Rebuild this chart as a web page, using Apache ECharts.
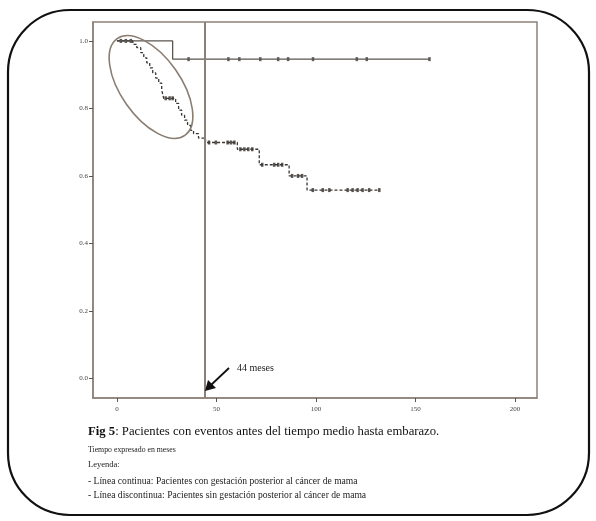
<!DOCTYPE html>
<html>
<head>
<meta charset="utf-8">
<script src="https://cdn.jsdelivr.net/npm/echarts@6/dist/echarts.min.js"></script>
<style>
  html, body { margin: 0; padding: 0; background: #ffffff; }
  #chart { width: 596px; height: 521px; }
</style>
</head>
<body>
<div id="chart"></div>
<script>
// Kaplan-Meier curves: time in months, cumulative survival
const xTicks = [0, 50, 100, 150, 200];
const yTicks = [0.0, 0.2, 0.4, 0.6, 0.8, 1.0];

// Patients with pregnancy after breast cancer (solid line)
const conTimes = [0, 28, 157];
const conSurv = [1.0, 0.946, 0.946];
const conCensored = [36, 56, 61.5, 72, 81, 86, 98.5, 120.5, 125.5, 157];

// Patients without pregnancy after breast cancer (dashed line)
const sinTimes = [0, 8, 10, 12, 13.5, 15, 16.5, 18, 19.5, 21, 22.5, 23.5, 29.5, 31, 32.5, 34, 35.5, 37, 38.5, 41, 44.5, 60.5, 71.5, 86.5, 95.5, 132];
const sinSurv = [1.0, 0.99, 0.98, 0.965, 0.95, 0.935, 0.92, 0.905, 0.89, 0.875, 0.855, 0.83, 0.815, 0.795, 0.78, 0.765, 0.75, 0.735, 0.725, 0.712, 0.699, 0.679, 0.633, 0.60, 0.558, 0.558];
const sinCensored = [2, 4.5, 7, 24.5, 26.5, 28, 46.3, 49.7, 55.6, 57.3, 59, 62, 64, 66, 68, 73, 79, 81, 83, 88, 91, 93, 98.4, 103.4, 106.7, 115.9, 118.4, 120.9, 123.4, 126.7, 131.8];

// Median time to pregnancy
const medianMonths = 44;

function pairs(ts, ss) { return ts.map((t, i) => [t, ss[i]]); }
function survAt(ts, ss, t) {
  let s = ss[0];
  for (let i = 0; i < ts.length; i++) { if (ts[i] <= t) s = ss[i]; }
  return s;
}
function censorPoints(cs, ts, ss) { return cs.map(t => [t, survAt(ts, ss, t)]); }

const chart = echarts.init(document.getElementById('chart'), null, { renderer: 'canvas' });
const frameColor = '#8d8279';
const serif = '"Liberation Serif", "DejaVu Serif", serif';

chart.setOption({
  animation: false,
  backgroundColor: '#ffffff',
  grid: {
    left: 93, right: 59, top: 22, bottom: 123,
    show: true, borderColor: frameColor, borderWidth: 1.5, backgroundColor: 'transparent'
  },
  xAxis: {
    type: 'value', min: -12, max: 211,
    splitLine: { show: false },
    axisLine: { show: true, onZero: false, lineStyle: { color: frameColor, width: 1.5 } },
    axisTick: { show: true, length: 4, customValues: xTicks, lineStyle: { color: '#555' } },
    axisLabel: { customValues: xTicks, color: '#444', fontSize: 7, fontFamily: serif, margin: 8 }
  },
  yAxis: {
    type: 'value', min: -0.058, max: 1.056,
    splitLine: { show: false },
    axisLine: { show: true, onZero: false, lineStyle: { color: frameColor, width: 1.5 } },
    axisTick: { show: true, length: 4, customValues: yTicks, lineStyle: { color: '#555' } },
    axisLabel: { customValues: yTicks, color: '#444', fontSize: 7, fontFamily: serif, margin: 5,
      formatter: v => v.toFixed(1) }
  },
  series: [
    {
      name: 'Con gestación', type: 'line', step: 'end', symbol: 'none',
      data: pairs(conTimes, conSurv),
      lineStyle: { color: '#5a5550', width: 1.3 },
      markLine: {
        silent: true, symbol: 'none', label: { show: false },
        lineStyle: { color: '#8a8079', width: 2, type: 'solid' },
        data: [{ xAxis: medianMonths }]
      }
    },
    {
      name: 'Con gestación censurados', type: 'scatter',
      data: censorPoints(conCensored, conTimes, conSurv),
      symbol: 'rect', symbolSize: [2.5, 4], itemStyle: { color: '#3a3633' }
    },
    {
      name: 'Sin gestación', type: 'line', step: 'end', symbol: 'none',
      data: pairs(sinTimes, sinSurv),
      lineStyle: { color: '#3a3633', width: 1.3, type: [3, 2] }
    },
    {
      name: 'Sin gestación censurados', type: 'scatter',
      data: censorPoints(sinCensored, sinTimes, sinSurv),
      symbol: 'rect', symbolSize: [2.5, 4], itemStyle: { color: '#2f2b28' }
    }
  ],
  graphic: [
    // rounded outer frame
    { type: 'rect', shape: { x: 8, y: 10, width: 581, height: 505, r: 62 },
      style: { fill: 'none', stroke: '#111', lineWidth: 2.2 }, z: 100 },
    // highlight ellipse around the early drop
    { type: 'ellipse', x: 151, y: 87, rotation: -0.96,
      shape: { cx: 0, cy: 0, rx: 59, ry: 30 },
      style: { fill: 'none', stroke: '#8a7d72', lineWidth: 1.6 }, z: 100 },
    // arrow to the median line
    { type: 'line', shape: { x1: 229, y1: 368, x2: 211, y2: 385 },
      style: { stroke: '#111', lineWidth: 1.8 }, z: 100 },
    { type: 'polygon', shape: { points: [[205, 391], [208, 380], [216, 388]] },
      style: { fill: '#111' }, z: 100 },
    { type: 'text', x: 237, y: 368,
      style: { text: '44 meses', fill: '#222', font: '10px ' + serif, textVerticalAlign: 'middle' }, z: 100 },
    // caption
    { type: 'text', x: 88, y: 432,
      style: { text: '{b|Fig 5}: Pacientes con eventos antes del tiempo medio hasta embarazo.',
        fill: '#111', font: '12.7px ' + serif, textVerticalAlign: 'middle',
        rich: { b: { fontWeight: 'bold', fontSize: 12.7, fontFamily: serif, fill: '#111' } } }, z: 100 },
    { type: 'text', x: 88, y: 450,
      style: { text: 'Tiempo expresado en meses', fill: '#222', font: '7.8px ' + serif, textVerticalAlign: 'middle' }, z: 100 },
    { type: 'text', x: 88, y: 465,
      style: { text: 'Leyenda:', fill: '#222', font: '8.5px ' + serif, textVerticalAlign: 'middle' }, z: 100 },
    { type: 'text', x: 88, y: 481,
      style: { text: '- Línea continua: Pacientes con gestación posterior al cáncer de mama', fill: '#222', font: '9.6px ' + serif, textVerticalAlign: 'middle' }, z: 100 },
    { type: 'text', x: 88, y: 495,
      style: { text: '- Línea discontinua: Pacientes sin gestación posterior al cáncer de mama', fill: '#222', font: '9.6px ' + serif, textVerticalAlign: 'middle' }, z: 100 }
  ]
});
</script>
</body>
</html>
